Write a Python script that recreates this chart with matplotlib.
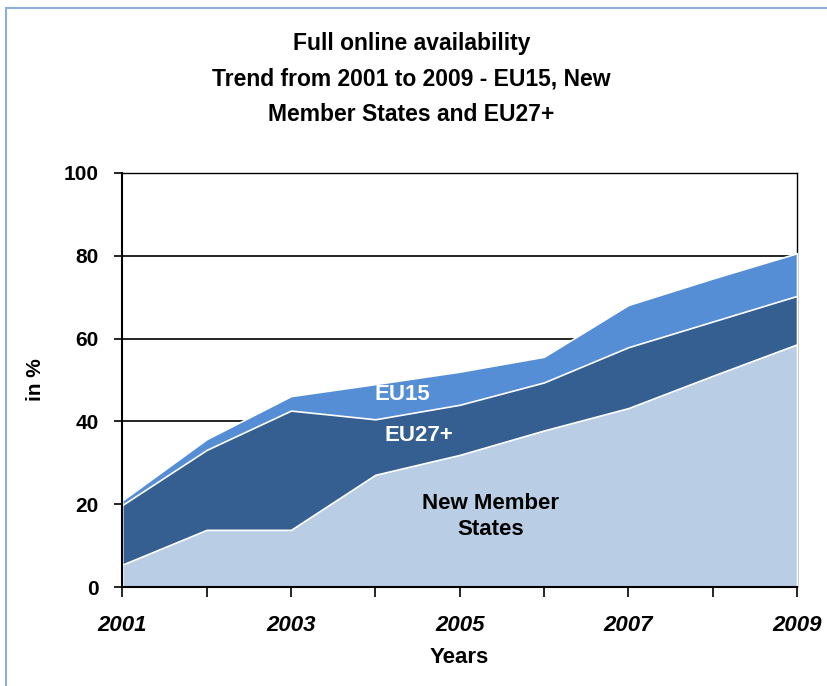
import matplotlib
matplotlib.use("Agg")
import matplotlib.pyplot as plt
from matplotlib.patches import Rectangle

years = [2001, 2002, 2003, 2004, 2005, 2006, 2007, 2008, 2009]
eu15 = [20.9, 35.7, 46.1, 49.0, 52.0, 55.6, 68.1, 74.5, 80.6]
eu27 = [19.8, 33.1, 42.6, 40.5, 44.0, 49.4, 57.9, 64.1, 70.3]
nms = [5.4, 13.8, 13.8, 27.1, 31.9, 37.8, 43.2, 51.0, 58.6]
xtick_labels = ["2001", "2003", "2005", "2007", "2009"]
yticks = [0, 20, 40, 60, 80, 100]

plt.rcParams['font.family'] = ['Liberation Sans', 'DejaVu Sans']

fig = plt.figure(figsize=(8.28, 6.86), dpi=100)
fig.patches.append(Rectangle((0.007, -0.01), 1.2, 0.999, transform=fig.transFigure,
                             fill=False, edgecolor='#8eaee0', linewidth=1.5))
ax = fig.add_axes([0.1477, 0.1443, 0.8149, 0.6037])

for y in yticks[1:]:
    ax.axhline(y, color='black', linewidth=1.2, zorder=0)

ax.fill_between(years, eu15, 0, color='#558ed5', edgecolor='white', linewidth=1.2, zorder=1)
ax.fill_between(years, eu27, 0, color='#365f91', edgecolor='white', linewidth=1.2, zorder=2)
ax.fill_between(years, nms, 0, color='#b9cde5', edgecolor='white', linewidth=1.2, zorder=3)

ax.set_xlim(2001, 2009)
ax.set_ylim(0, 100)
ax.set_xticks(years)
ax.set_xticklabels([str(y) if str(y) in xtick_labels else "" for y in years],
                   fontstyle='italic', fontweight='bold', fontsize=16)
ax.set_yticks(yticks)
ax.set_yticklabels([str(y) for y in yticks], fontweight='bold', fontsize=15)
ax.tick_params(axis='x', direction='out', length=7, width=1.2, pad=13)
ax.tick_params(axis='y', direction='out', length=6, width=1.2, pad=11)

for s in ['left', 'bottom']:
    ax.spines[s].set_linewidth(1.5)
    ax.spines[s].set_zorder(5)
for s in ['top', 'right']:
    ax.spines[s].set_linewidth(1.0)
    ax.spines[s].set_zorder(0)

ax.set_xlabel("Years", fontweight='bold', fontsize=16, labelpad=8)
ax.set_ylabel("in %", fontweight='bold', fontsize=15)
ax.yaxis.set_label_coords(-0.114, 0.5)

ax.text(2004.32, 46.5, "EU15", color='white', fontweight='bold', fontsize=16,
        ha='center', va='center', zorder=6)
ax.text(2004.52, 36.5, "EU27+", color='white', fontweight='bold', fontsize=16,
        ha='center', va='center', zorder=6)
ax.text(2005.37, 17.0, "New Member\nStates", color='black', fontweight='bold', fontsize=16,
        ha='center', va='center', zorder=6, linespacing=1.27)

fig.text(0.497, 0.885, "Full online availability\nTrend from 2001 to 2009 - EU15, New\nMember States and EU27+",
         ha='center', va='center', fontweight='bold', fontsize=16.5, linespacing=1.68)

fig.savefig("out.png", dpi=100)
